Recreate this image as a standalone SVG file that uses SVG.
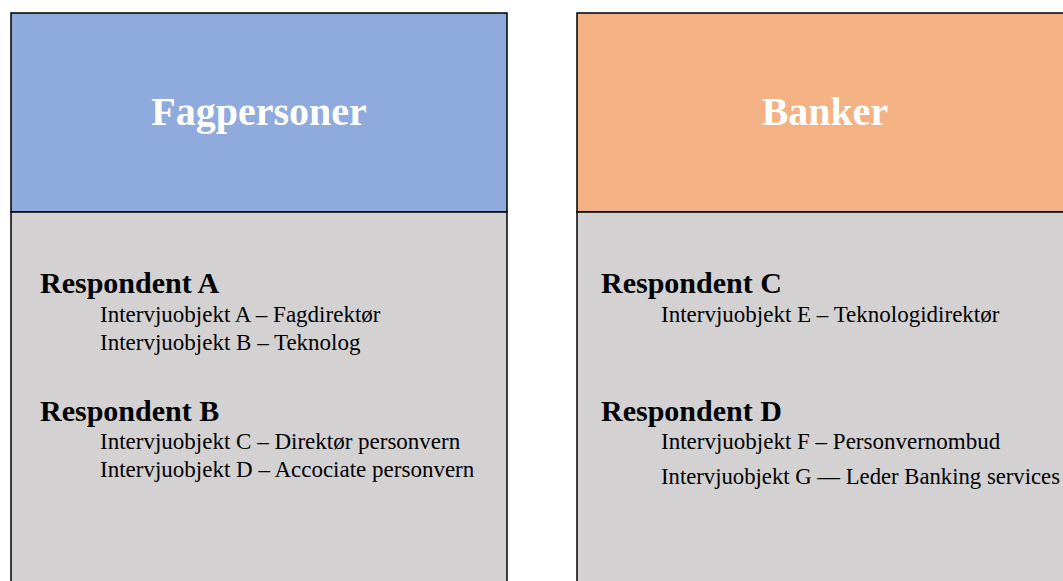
<svg xmlns="http://www.w3.org/2000/svg" width="1063" height="581" viewBox="0 0 1063 581">
<style>
.box{stroke:#000;stroke-width:1.5}
.hdr{font-family:"Liberation Serif",serif;font-weight:bold;font-size:40px;fill:#fff;text-anchor:middle}
.resp{font-family:"Liberation Serif",serif;font-weight:bold;font-size:30px;fill:#000}
.item{font-family:"Liberation Serif",serif;font-size:23px;fill:#000}
</style>
<rect width="1063" height="581" fill="#fff"/>
<g id="fagpersoner">
<rect class="box" x="11" y="13" width="496" height="199" fill="#8FAADC"/>
<rect class="box" x="11" y="212" width="496" height="375" fill="#D3D1D2"/>
<text class="hdr" x="259" y="125">Fagpersoner</text>
<text class="resp" x="40" y="293">Respondent A</text>
<text class="item" x="100" y="322">Intervjuobjekt A – Fagdirektør</text>
<text class="item" x="100" y="350">Intervjuobjekt B – Teknolog</text>
<text class="resp" x="40" y="421">Respondent B</text>
<text class="item" x="100" y="449">Intervjuobjekt C – Direktør personvern</text>
<text class="item" x="100" y="477">Intervjuobjekt D – Accociate personvern</text>
</g>
<g id="banker">
<rect class="box" x="577" y="13" width="500" height="199" fill="#F4B183"/>
<rect class="box" x="577" y="212" width="500" height="375" fill="#D3D1D2"/>
<text class="hdr" x="825" y="125">Banker</text>
<text class="resp" x="601" y="293">Respondent C</text>
<text class="item" x="661" y="322">Intervjuobjekt E – Teknologidirektør</text>
<text class="resp" x="601" y="421">Respondent D</text>
<text class="item" x="661" y="449">Intervjuobjekt F – Personvernombud</text>
<text class="item" x="661" y="484" textLength="399" lengthAdjust="spacingAndGlyphs">Intervjuobjekt G — Leder Banking services</text>
</g>
<g id="connectors"/>
</svg>
